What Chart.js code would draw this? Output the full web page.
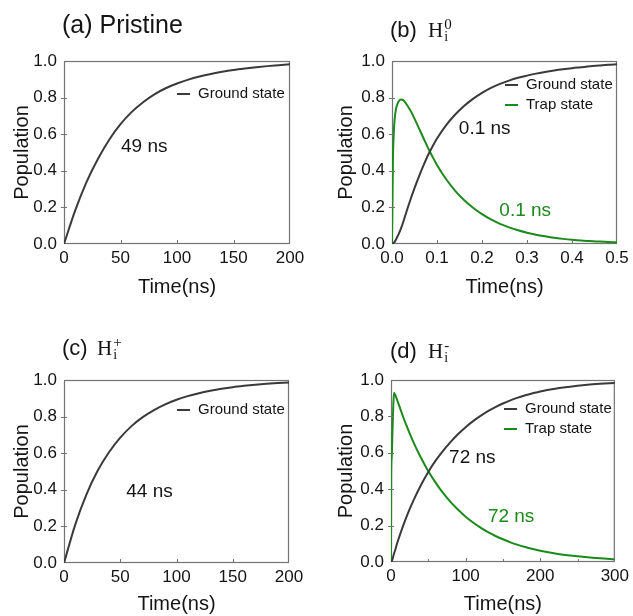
<!DOCTYPE html>
<html>
<head>
<meta charset="utf-8">
<script src="https://cdn.jsdelivr.net/npm/chart.js@4.4.1/dist/chart.umd.min.js"></script>
<style>
  html, body { margin: 0; padding: 0; background: #fff; }
  #wrap { position: relative; width: 633px; height: 616px; overflow: hidden; }
  #wrap canvas { position: absolute; }
</style>
</head>
<body>
<div id="wrap">
  <canvas id="panelA" width="316" height="308" style="left:0;top:0"></canvas>
  <canvas id="panelB" width="317" height="308" style="left:316px;top:0"></canvas>
  <canvas id="panelC" width="316" height="308" style="left:0;top:308px"></canvas>
  <canvas id="panelD" width="317" height="308" style="left:316px;top:308px"></canvas>
</div>
<script>
// ---- data -------------------------------------------------------------
// (a) pristine: ground-state population vs time (ns)
const timeA = [0, 10, 20, 30, 40, 50, 60, 70, 80, 90, 100, 110, 120, 130, 140, 150, 160, 170, 180, 190, 200];
const groundA = [0, 0.185, 0.34, 0.465, 0.57, 0.655, 0.722, 0.775, 0.818, 0.851, 0.877, 0.898, 0.915, 0.929, 0.941, 0.951,
                 0.959, 0.966, 0.972, 0.977, 0.982];

// (b) neutral interstitial H: ground and trap populations vs time (ns)
const timeB = [0, 0.002, 0.004, 0.006, 0.008, 0.01, 0.015, 0.02, 0.025, 0.03, 0.04, 0.05, 0.06, 0.07, 0.08, 0.09, 0.10,
               0.12, 0.14, 0.16, 0.18, 0.20, 0.22, 0.24, 0.26, 0.28, 0.30, 0.32, 0.34, 0.36, 0.38, 0.40, 0.42, 0.44, 0.46, 0.48, 0.50];
const groundB = [0, 0.003, 0.007, 0.012, 0.02, 0.03, 0.055, 0.085, 0.12, 0.16, 0.235, 0.305, 0.37, 0.43, 0.485, 0.533, 0.576,
                 0.648, 0.706, 0.754, 0.793, 0.826, 0.853, 0.875, 0.893, 0.908, 0.92, 0.931, 0.94, 0.948, 0.955, 0.961, 0.966, 0.971, 0.975, 0.979, 0.982];
const trapB = [0, 0.45, 0.61, 0.685, 0.725, 0.75, 0.78, 0.789, 0.786, 0.772, 0.733, 0.685, 0.632, 0.578, 0.525, 0.477, 0.432,
               0.355, 0.292, 0.24, 0.198, 0.163, 0.134, 0.11, 0.091, 0.075, 0.062, 0.051, 0.042, 0.034, 0.028, 0.023, 0.019, 0.016, 0.013, 0.011, 0.009];

// (c) positive interstitial H: ground-state population vs time (ns)
const timeC = [0, 10, 20, 30, 40, 50, 60, 70, 80, 90, 100, 110, 120, 130, 140, 150, 160, 170, 180, 190, 200];
const groundC = [0, 0.21, 0.375, 0.505, 0.605, 0.685, 0.748, 0.797, 0.836, 0.867, 0.892, 0.912, 0.928, 0.941, 0.952, 0.961,
                 0.968, 0.974, 0.979, 0.983, 0.987];

// (d) negative interstitial H: ground and trap populations vs time (ns)
const timeD = [0, 0.3, 1, 2, 3, 4, 6, 8, 10, 15, 20, 25, 30, 40, 50, 60, 70, 80, 90, 100, 110, 120, 130, 140, 150,
               160, 170, 180, 190, 200, 220, 240, 260, 280, 300];
const groundD = [0, 0, 0.005, 0.015, 0.03, 0.045, 0.07, 0.10, 0.125, 0.185, 0.24, 0.29, 0.337, 0.422, 0.495, 0.558, 0.612, 0.66, 0.703, 0.741,
                 0.774, 0.803, 0.829, 0.851, 0.871, 0.888, 0.903, 0.916, 0.927, 0.937, 0.952, 0.963, 0.972, 0.979, 0.984];
const trapD = [0, 0.48, 0.58, 0.72, 0.85, 0.93, 0.915, 0.893, 0.870, 0.812, 0.757, 0.707, 0.659, 0.574, 0.499, 0.435, 0.378, 0.329, 0.287, 0.249,
               0.217, 0.189, 0.164, 0.143, 0.125, 0.108, 0.094, 0.082, 0.071, 0.062, 0.047, 0.036, 0.027, 0.020, 0.015];

// axis tick steps
const popTickStep = 0.2;
const timeTickStepA = 50;
const timeTickStepB = 0.1;
const timeTickStepC = 50;
const timeTickStepD = 50;

// ---- styling ----------------------------------------------------------
const SANS = "'Liberation Sans', Arial, Helvetica, sans-serif";
const SERIF = "'Liberation Serif', 'Times New Roman', serif";
const GROUND = '#3a3a3a';
const TRAP = '#1a8a1a';
const TEXT = '#141414';
const FRAME = '#737373';

const zip = (xs, ys) => xs.map((x, i) => ({ x, y: ys[i] }));

function lineSet(label, xs, ys, color) {
  return {
    label, data: zip(xs, ys), borderColor: color, backgroundColor: color,
    borderWidth: 2, pointRadius: 0, fill: false, cubicInterpolationMode: 'monotone'
  };
}

// Frame box, inward ticks, in-plot key, value notes and the panel heading
const decorPlugin = {
  id: 'panelDecor',
  beforeDatasetsDraw(chart) {
    const { ctx, chartArea: a } = chart;
    ctx.save();
    ctx.strokeStyle = FRAME;
    ctx.lineWidth = 1.2;
    ctx.strokeRect(a.left + 0.5, a.top + 0.5, a.right - a.left - 1, a.bottom - a.top - 1);
    ctx.restore();
  },
  afterDatasetsDraw(chart, args, o) {
    const { ctx, chartArea: a, scales: { x, y } } = chart;
    ctx.save();
    // ticks
    ctx.strokeStyle = FRAME;
    ctx.lineWidth = 1;
    x.ticks.forEach(t => {
      if (t.value <= x.min + 1e-9 || t.value >= x.max - 1e-9) return;
      const px = Math.round(x.getPixelForValue(t.value)) + 0.5;
      ctx.beginPath(); ctx.moveTo(px, a.bottom); ctx.lineTo(px, a.bottom - (t.label === '' ? 3 : 4)); ctx.stroke();
    });
    y.ticks.forEach(t => {
      if (t.value <= y.min + 1e-9 || t.value >= y.max - 1e-9) return;
      const py = Math.round(y.getPixelForValue(t.value)) + 0.5;
      ctx.beginPath(); ctx.moveTo(a.left - 3, py); ctx.lineTo(a.left + 3, py); ctx.stroke();
    });
    // key
    ctx.font = `15px ${SANS}`;
    ctx.textBaseline = 'middle';
    ctx.textAlign = 'left';
    chart.data.datasets.forEach((ds, i) => {
      const ky = a.top + o.key.dy + i * 20;
      ctx.strokeStyle = ds.borderColor; ctx.lineWidth = 2;
      ctx.beginPath(); ctx.moveTo(a.left + o.key.dx, ky); ctx.lineTo(a.left + o.key.dx + 13, ky); ctx.stroke();
      ctx.fillStyle = TEXT;
      ctx.fillText(ds.label, a.left + o.key.dx + 21, ky);
    });
    // notes placed in data coordinates
    ctx.font = `19px ${SANS}`;
    ctx.textAlign = 'center';
    o.notes.forEach(n => {
      ctx.fillStyle = n.color;
      ctx.fillText(n.text, x.getPixelForValue(n.x), y.getPixelForValue(n.y));
    });
    // heading
    const h = o.heading;
    const hx = a.left + h.dx, hy = a.top + h.dy;
    ctx.fillStyle = TEXT;
    ctx.textAlign = 'left';
    ctx.textBaseline = 'alphabetic';
    ctx.font = `${h.size}px ${SANS}`;
    ctx.fillText(h.lead, hx, hy);
    if (h.sym) {
      const sx = hx + h.symDx;
      ctx.font = `21px ${SERIF}`;
      ctx.fillText(h.sym, sx, hy);
      const w = ctx.measureText(h.sym).width;
      ctx.font = `14px ${SERIF}`;
      ctx.fillText(h.sub, sx + w + 1, hy + 4);
      ctx.font = `15px ${SERIF}`;
      ctx.fillText(h.sup, sx + w + 1, hy - 8);
    }
    ctx.restore();
  }
};

function makePanel(id, box, xCfg, datasets, decor) {
  const { yAxisW, xAxisH, padTop, padRight, yTitlePad, yTickPad, xTitlePad } = box;
  return new Chart(document.getElementById(id), {
    type: 'line',
    data: { datasets },
    plugins: [decorPlugin],
    options: {
      responsive: false,
      animation: false,
      devicePixelRatio: 1,
      layout: { padding: { top: padTop, right: padRight, left: 0, bottom: 0 } },
      plugins: { legend: { display: false }, tooltip: { enabled: false }, panelDecor: decor },
      scales: {
        x: {
          type: 'linear', min: xCfg.min, max: xCfg.max,
          afterFit: s => { s.height = xAxisH; },
          grid: { display: false, drawTicks: false },
          border: { display: false },
          ticks: {
            stepSize: xCfg.step, padding: 4, color: TEXT, maxRotation: 0, autoSkip: false,
            font: { family: SANS, size: 17 }, callback: xCfg.fmt
          },
          title: { display: true, text: 'Time(ns)', color: TEXT, font: { family: SANS, size: 20 }, padding: { top: 0, bottom: xTitlePad } }
        },
        y: {
          type: 'linear', min: 0, max: 1,
          afterFit: s => { s.width = yAxisW; },
          grid: { display: false, drawTicks: false },
          border: { display: false },
          ticks: {
            stepSize: popTickStep, padding: yTickPad, color: TEXT,
            font: { family: SANS, size: 17 }, callback: v => Number(v).toFixed(1)
          },
          title: { display: true, text: 'Population', color: TEXT, font: { family: SANS, size: 20 }, padding: { top: yTitlePad, bottom: 0 } }
        }
      }
    }
  });
}

const keyAt = (dy) => ({ dx: 113, dy });

makePanel('panelA',
  { yAxisW: 64, xAxisH: 64, padTop: 61, padRight: 26, yTitlePad: 10, yTickPad: 7, xTitlePad: 9 },
  { min: 0, max: 200, step: timeTickStepA, fmt: v => String(v) },
  [lineSet('Ground state', timeA, groundA, GROUND)],
  { key: keyAt(33),
    notes: [{ text: '49 ns', x: 71, y: 0.53, color: TEXT }],
    heading: { dx: -2, dy: -28, size: 25, lead: '(a) Pristine' } });

makePanel('panelB',
  { yAxisW: 76, xAxisH: 64, padTop: 61, padRight: 16, yTitlePad: 18, yTickPad: 7, xTitlePad: 9 },
  { min: 0, max: 0.5, step: timeTickStepB, fmt: v => Number(v).toFixed(1) },
  [lineSet('Ground state', timeB, groundB, GROUND), lineSet('Trap state', timeB, trapB, TRAP)],
  { key: keyAt(24),
    notes: [{ text: '0.1 ns', x: 0.206, y: 0.63, color: TEXT }, { text: '0.1 ns', x: 0.296, y: 0.18, color: TRAP }],
    heading: { dx: -2, dy: -24, size: 22, lead: '(b)', sym: 'H', sub: 'i', sup: '0', symDx: 38 } });

makePanel('panelC',
  { yAxisW: 64, xAxisH: 53, padTop: 72, padRight: 27, yTitlePad: 10, yTickPad: 7, xTitlePad: 0 },
  { min: 0, max: 200, step: timeTickStepC, fmt: v => String(v) },
  [lineSet('Ground state', timeC, groundC, GROUND)],
  { key: keyAt(30),
    notes: [{ text: '44 ns', x: 76, y: 0.39, color: TEXT }],
    heading: { dx: -2, dy: -25, size: 22, lead: '(c)', sym: 'H', sub: 'i', sup: '+', symDx: 35 } });

makePanel('panelD',
  { yAxisW: 75, xAxisH: 54, padTop: 72, padRight: 16, yTitlePad: 18, yTickPad: 7, xTitlePad: 0 },
  { min: 0, max: 300, step: timeTickStepD, fmt: v => (v % 100 === 0 ? String(v) : '') },
  [lineSet('Ground state', timeD, groundD, GROUND), lineSet('Trap state', timeD, trapD, TRAP)],
  { key: keyAt(29),
    notes: [{ text: '72 ns', x: 109, y: 0.572, color: TEXT }, { text: '72 ns', x: 161, y: 0.25, color: TRAP }],
    heading: { dx: -1, dy: -22, size: 22, lead: '(d)', sym: 'H', sub: 'i', sup: '-', symDx: 38 } });
</script>
</body>
</html>
